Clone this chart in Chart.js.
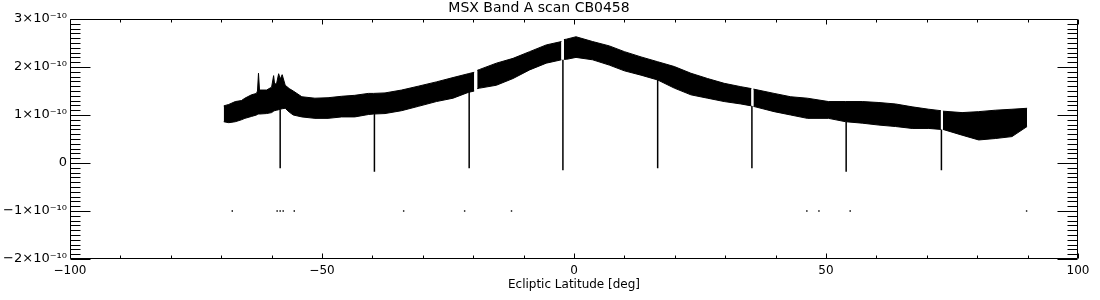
<!DOCTYPE html>
<html>
<head>
<meta charset="utf-8">
<script src="https://cdn.jsdelivr.net/npm/chart.js@4.4.1/dist/chart.umd.min.js"></script>
<style>
  html, body { margin: 0; padding: 0; background: #fff; }
  #c { display: block; }
</style>
</head>
<body>
<canvas id="c" width="1100" height="300" style="width:1100px;height:300px"></canvas>
<script>
// ---- Data (signal values in units of 1e-10) ----
// Envelope of the dense scan band: latitude, upper edge, lower edge (null = gap in scan)
const lat   = [-69.5,-68.5,-67.2,-66.0,-65.3,-64.0,-63.0,-62.8,-62.6,-62.4,-61.0,-60.0,-59.6,-59.4,-59.0,-58.6,-58.3,-57.9,-57.3,-56.5,-55.7,-54.0,-51.4,-48.8,-46.1,-43.5,-40.8,-39.8,-37.5,-34.2,-30.9,-27.3,-24.0,-21.0,-19.8,-19.5,-19.2,-18.7,-15.4,-12.1,-8.8,-5.5,-2.5,-2.2,-2.0,-1.5,0.4,3.7,7.0,10.0,13.3,16.6,19.9,23.2,26.5,29.8,33.1,35.2,35.4,35.6,39.7,43.0,46.3,50.5,53.9,57.2,60.5,63.8,67.1,70.4,72.8,73.0,73.2,77.0,80.3,83.6,86.9,89.9];
const upper = [1.19,1.22,1.28,1.30,1.35,1.42,1.45,1.50,1.87,1.52,1.52,1.58,1.82,1.64,1.66,1.86,1.75,1.84,1.62,1.55,1.50,1.38,1.35,1.36,1.39,1.41,1.45,1.45,1.46,1.52,1.60,1.69,1.78,1.86,1.89,null,1.93,1.95,2.08,2.18,2.32,2.46,2.53,null,2.57,2.58,2.63,2.53,2.44,2.32,2.21,2.11,2.01,1.87,1.76,1.66,1.59,1.55,null,1.54,1.45,1.38,1.35,1.28,1.28,1.28,1.26,1.23,1.17,1.12,1.09,null,1.08,1.05,1.07,1.10,1.12,1.14];
const lower = [0.86,0.84,0.86,0.90,0.93,0.97,1.00,1.01,1.02,1.02,1.03,1.05,1.08,1.09,1.10,1.11,1.12,1.13,1.14,1.06,1.00,0.96,0.93,0.93,0.96,0.96,1.01,1.02,1.03,1.09,1.18,1.28,1.35,1.47,1.50,null,1.55,1.56,1.62,1.76,1.94,2.08,2.15,null,2.16,2.16,2.20,2.15,2.04,1.92,1.83,1.73,1.56,1.42,1.35,1.28,1.23,1.19,null,1.18,1.07,1.00,0.93,0.93,0.86,0.83,0.79,0.76,0.72,0.72,0.70,null,0.70,0.58,0.48,0.51,0.55,0.76];

// Narrow negative dips below the band
const dipLat = [-58.3,-39.6,-20.8,-2.2,16.6,35.3,54.0,72.9];
const dipTop = [1.12,1.02,1.49,2.15,1.73,1.19,0.86,0.70];
const dipMin = [-0.11,-0.18,-0.11,-0.15,-0.11,-0.11,-0.18,-0.15];

// Isolated samples near -1e-10
const outLat = [-67.8,-58.9,-58.3,-57.7,-55.5,-33.8,-21.7,-12.4,46.2,48.6,54.8,89.8];
const outVal = [-1.0,-1.0,-1.0,-1.0,-1.0,-1.0,-1.0,-1.0,-1.0,-1.0,-1.0,-1.0];

// Axis ticks
const xTickVals = [-100,-50,0,50,100];
const yTickVals = [-2,-1,0,1,2,3];

const titleText = 'MSX Band A scan CB0458';
const xTitle = 'Ecliptic Latitude [deg]';

// ---- Build datasets ----
const sup = {'-':'⁻','0':'⁰','1':'¹','2':'²','3':'³','4':'⁴','5':'⁵','6':'⁶','7':'⁷','8':'⁸','9':'⁹'};
function yLabel(v) {
  if (v === 0) return '0';
  const n = Math.round(v);
  const m = (n < 0 ? '−' : '') + Math.abs(n);
  return m + '×10' + '-10'.split('').map(c => sup[c]).join('');
}
function xLabel(v) { return (v < 0 ? '−' : '') + Math.abs(v); }

const upperData = lat.map((x, i) => ({x, y: upper[i]}));
const lowerData = lat.map((x, i) => ({x, y: lower[i]}));
const dipData = [];
dipLat.forEach((x, i) => {
  dipData.push({x, y: dipTop[i]});
  dipData.push({x, y: dipMin[i]});
  dipData.push({x, y: null});
});
const outData = outLat.map((x, i) => ({x, y: outVal[i]}));

const FONT = "'DejaVu Sans', 'Liberation Sans', sans-serif";

const idlTicks = {
  id: 'idlTicks',
  afterDatasetsDraw(chart) {
    const {ctx, chartArea: a, scales} = chart;
    const xs = scales.x, ys = scales.y;
    ctx.save();
    ctx.strokeStyle = '#000';
    ctx.lineWidth = 1;
    ctx.beginPath();
    // frame
    const L = Math.round(a.left) + 0.5, R = Math.round(a.right) - 0.5;
    const T = Math.round(a.top) + 0.5, B = Math.round(a.bottom) - 0.5;
    ctx.rect(L, T, R - L, B - T);
    // x ticks (every 10, major every 50)
    for (let v = xs.min; v <= xs.max; v += 10) {
      const p = Math.round(xs.getPixelForValue(v)) + 0.5;
      const len = (v % 50 === 0) ? 5 : 3;
      ctx.moveTo(p, B); ctx.lineTo(p, B - len);
      ctx.moveTo(p, T); ctx.lineTo(p, T + len);
    }
    // y ticks (every 0.1, major every 1)
    for (let i = Math.round(ys.min * 10); i <= Math.round(ys.max * 10); i++) {
      const p = Math.round(ys.getPixelForValue(i / 10)) + 0.5;
      const len = (i % 10 === 0) ? 20 : 10;
      ctx.moveTo(L, p); ctx.lineTo(L + len, p);
      ctx.moveTo(R, p); ctx.lineTo(R - len, p);
    }
    ctx.stroke();
    ctx.restore();
  }
};

new Chart(document.getElementById('c'), {
  type: 'line',
  data: {
    datasets: [
      { label: 'upper', data: upperData, borderColor: '#000', borderWidth: 1, pointRadius: 0, fill: false, spanGaps: false, tension: 0 },
      { label: 'lower', data: lowerData, borderColor: '#000', borderWidth: 1, pointRadius: 0, fill: '-1', backgroundColor: '#000', spanGaps: false, tension: 0 },
      { label: 'dips', data: dipData, borderColor: '#000', borderWidth: 1.5, pointRadius: 0, fill: false, spanGaps: false },
      { type: 'scatter', label: 'samples', data: outData, pointStyle: 'rect', pointRadius: 1, backgroundColor: '#000', borderWidth: 0 }
    ]
  },
  options: {
    responsive: false,
    animation: false,
    devicePixelRatio: 1,
    layout: { padding: { left: 0, right: 22, top: 0, bottom: 0 } },
    plugins: {
      legend: { display: false },
      tooltip: { enabled: false },
      title: {
        display: true, text: titleText, color: '#000',
        font: { family: FONT, size: 14, weight: 'normal', lineHeight: 1 },
        padding: { top: 1, bottom: 4 }
      }
    },
    scales: {
      x: {
        type: 'linear', min: -100, max: 100,
        afterBuildTicks(s) { s.ticks = xTickVals.map(v => ({value: v})); },
        afterFit(s) { s.height = 41; },
        grid: { display: false, drawTicks: false },
        border: { display: false },
        ticks: { color: '#000', padding: 5, maxRotation: 0, autoSkip: false, font: { family: FONT, size: 12 }, callback: v => xLabel(v) },
        title: { display: true, text: xTitle, color: '#000', font: { family: FONT, size: 12 }, padding: { top: 0, bottom: 8 } }
      },
      y: {
        type: 'linear', min: -2, max: 3,
        afterBuildTicks(s) { s.ticks = yTickVals.map(v => ({value: v})); },
        afterFit(s) { s.width = 70; },
        grid: { display: false, drawTicks: false },
        border: { display: false },
        ticks: { color: '#000', padding: 3, autoSkip: false, font: { family: FONT, size: 13 }, callback: v => yLabel(v) }
      }
    }
  },
  plugins: [idlTicks]
});
</script>
</body>
</html>
